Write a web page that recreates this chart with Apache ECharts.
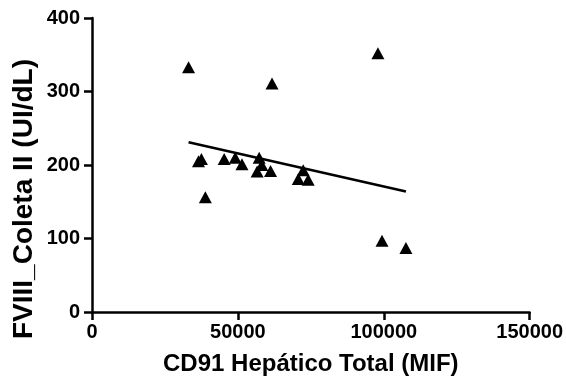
<!DOCTYPE html>
<html>
<head>
<meta charset="utf-8">
<script src="https://cdn.jsdelivr.net/npm/echarts@6/dist/echarts.min.js"></script>
<style>html,body{margin:0;padding:0;background:#fff}#c{width:566px;height:383px}</style>
</head>
<body>
<div id="c"></div>
<script>
var xValues = [33100, 36500, 37500, 38850, 45300, 49100, 51400, 57300, 58200, 56600, 61200, 61700, 70700, 72400, 74100, 98000, 99400, 107600];
var yValues = [333, 205, 208, 156, 208, 210, 201, 210, 200, 191, 192, 311, 181, 193, 180, 352, 97, 87];
var fitX = [33100, 107600];
var fitY = [231, 164];
var xTicks = [0, 50000, 100000, 150000];
var yTicks = [0, 100, 200, 300, 400];
var xTitle = 'CD91 Hepático Total (MIF)';
var yTitle = 'FVIII_Coleta II (UI/dL)';

var pts = xValues.map(function (x, i) { return [x, yValues[i]]; });
var fit = fitX.map(function (x, i) { return [x, fitY[i]]; });
var FONT = '"Liberation Sans", Arial, sans-serif';

var chart = echarts.init(document.getElementById('c'), null, {renderer: 'canvas'});
chart.setOption({
  animation: false,
  grid: {left: 92, right: 35, top: 18, bottom: 71, containLabel: false},
  xAxis: {
    type: 'value', min: xTicks[0], max: xTicks[xTicks.length - 1], interval: xTicks[1] - xTicks[0],
    splitLine: {show: false},
    axisLine: {show: true, lineStyle: {color: '#000', width: 2.5}},
    axisTick: {show: true, length: 8, lineStyle: {color: '#000', width: 2.5}},
    axisLabel: {color: '#000', fontFamily: FONT, fontWeight: 'bold', fontSize: 20, margin: 10,
      formatter: function (v) { return String(v); }},
    name: xTitle, nameLocation: 'middle', nameGap: 40,
    nameTextStyle: {color: '#000', fontFamily: FONT, fontWeight: 'bold', fontSize: 24}
  },
  yAxis: {
    type: 'value', min: yTicks[0], max: yTicks[yTicks.length - 1], interval: yTicks[1] - yTicks[0],
    splitLine: {show: false},
    axisLine: {show: true, lineStyle: {color: '#000', width: 2.5}},
    axisTick: {show: true, length: 8, lineStyle: {color: '#000', width: 2.5}},
    axisLabel: {color: '#000', fontFamily: FONT, fontWeight: 'bold', fontSize: 20, margin: 12,
      formatter: function (v) { return String(v); }}
  },
  graphic: [{
    type: 'text', x: 24, y: 199, rotation: Math.PI / 2,
    style: {text: yTitle, fill: '#000', font: 'bold 28px "Liberation Sans", Arial, sans-serif', align: 'center', verticalAlign: 'middle'}
  }],
  series: [{
    type: 'scatter', data: pts, symbol: 'triangle', symbolSize: [13, 12],
    itemStyle: {color: '#000', opacity: 1}, z: 3
  }, {
    type: 'line', data: fit, symbol: 'none', lineStyle: {color: '#000', width: 2.5}, z: 2
  }]
});
</script>
</body>
</html>
